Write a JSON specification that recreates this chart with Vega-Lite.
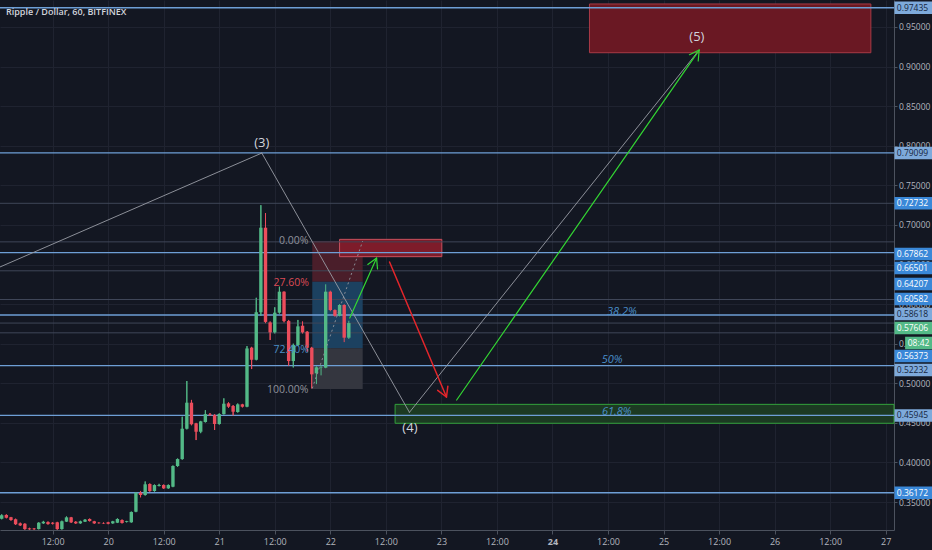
{
  "$schema": "https://vega.github.io/schema/vega-lite/v6.json",
  "width": 894,
  "height": 530,
  "autosize": "none",
  "padding": {"left": 0, "top": 0, "right": 38, "bottom": 20},
  "background": "#131722",
  "title": {
    "text": "Ripple / Dollar, 60, BITFINEX",
    "anchor": "start",
    "frame": "group",
    "orient": "top",
    "offset": -17,
    "dx": 6,
    "font": "Open Sans",
    "fontSize": 9,
    "fontWeight": 600,
    "color": "#d1d4dc"
  },
  "datasets": {
    "candles": [
      {"t": 1, "o": 0.3290, "h": 0.3345, "l": 0.3282, "c": 0.3332},
      {"t": 2, "o": 0.3336, "h": 0.3345, "l": 0.3295, "c": 0.3302},
      {"t": 3, "o": 0.3307, "h": 0.3312, "l": 0.3265, "c": 0.3273},
      {"t": 4, "o": 0.3282, "h": 0.3290, "l": 0.3210, "c": 0.3219},
      {"t": 5, "o": 0.3231, "h": 0.3240, "l": 0.3198, "c": 0.3206},
      {"t": 6, "o": 0.3226, "h": 0.3232, "l": 0.3150, "c": 0.3159},
      {"t": 7, "o": 0.3168, "h": 0.3175, "l": 0.3150, "c": 0.3155},
      {"t": 8, "o": 0.3166, "h": 0.3172, "l": 0.3150, "c": 0.3157},
      {"t": 9, "o": 0.3159, "h": 0.3245, "l": 0.3155, "c": 0.3239},
      {"t": 10, "o": 0.3231, "h": 0.3262, "l": 0.3225, "c": 0.3251},
      {"t": 11, "o": 0.3247, "h": 0.3255, "l": 0.3215, "c": 0.3222},
      {"t": 12, "o": 0.3239, "h": 0.3245, "l": 0.3218, "c": 0.3226},
      {"t": 13, "o": 0.3244, "h": 0.3250, "l": 0.3150, "c": 0.3159},
      {"t": 14, "o": 0.3159, "h": 0.3265, "l": 0.3152, "c": 0.3257},
      {"t": 15, "o": 0.3252, "h": 0.3318, "l": 0.3248, "c": 0.3307},
      {"t": 16, "o": 0.3307, "h": 0.3312, "l": 0.3236, "c": 0.3244},
      {"t": 17, "o": 0.3251, "h": 0.3258, "l": 0.3224, "c": 0.3231},
      {"t": 18, "o": 0.3231, "h": 0.3264, "l": 0.3226, "c": 0.3257},
      {"t": 19, "o": 0.3252, "h": 0.3285, "l": 0.3248, "c": 0.3277},
      {"t": 20, "o": 0.3286, "h": 0.3292, "l": 0.3255, "c": 0.3260},
      {"t": 21, "o": 0.3257, "h": 0.3262, "l": 0.3225, "c": 0.3231},
      {"t": 22, "o": 0.3239, "h": 0.3245, "l": 0.3228, "c": 0.3233},
      {"t": 23, "o": 0.3236, "h": 0.3242, "l": 0.3224, "c": 0.3229},
      {"t": 24, "o": 0.3244, "h": 0.3250, "l": 0.3220, "c": 0.3226},
      {"t": 25, "o": 0.3231, "h": 0.3262, "l": 0.3226, "c": 0.3257},
      {"t": 26, "o": 0.3239, "h": 0.3294, "l": 0.3235, "c": 0.3286},
      {"t": 27, "o": 0.3273, "h": 0.3280, "l": 0.3230, "c": 0.3235},
      {"t": 28, "o": 0.3248, "h": 0.3262, "l": 0.3243, "c": 0.3257},
      {"t": 29, "o": 0.3244, "h": 0.3380, "l": 0.3240, "c": 0.3374},
      {"t": 30, "o": 0.3378, "h": 0.3625, "l": 0.3372, "c": 0.3618},
      {"t": 31, "o": 0.3618, "h": 0.3640, "l": 0.3560, "c": 0.3589},
      {"t": 32, "o": 0.3589, "h": 0.3760, "l": 0.3582, "c": 0.3724},
      {"t": 33, "o": 0.3728, "h": 0.3735, "l": 0.3630, "c": 0.3639},
      {"t": 34, "o": 0.3639, "h": 0.3722, "l": 0.3632, "c": 0.3715},
      {"t": 35, "o": 0.3703, "h": 0.3730, "l": 0.3698, "c": 0.3715},
      {"t": 36, "o": 0.3715, "h": 0.3722, "l": 0.3666, "c": 0.3673},
      {"t": 37, "o": 0.3673, "h": 0.3722, "l": 0.3668, "c": 0.3715},
      {"t": 38, "o": 0.3694, "h": 0.3962, "l": 0.3688, "c": 0.3955},
      {"t": 39, "o": 0.3955, "h": 0.4050, "l": 0.3945, "c": 0.4043},
      {"t": 40, "o": 0.4043, "h": 0.4578, "l": 0.4035, "c": 0.4426},
      {"t": 41, "o": 0.4426, "h": 0.5029, "l": 0.4418, "c": 0.4755},
      {"t": 42, "o": 0.4755, "h": 0.4790, "l": 0.4470, "c": 0.4482},
      {"t": 43, "o": 0.4494, "h": 0.4500, "l": 0.4283, "c": 0.4388},
      {"t": 44, "o": 0.4388, "h": 0.4525, "l": 0.4370, "c": 0.4519},
      {"t": 45, "o": 0.4511, "h": 0.4660, "l": 0.4505, "c": 0.4611},
      {"t": 46, "o": 0.4607, "h": 0.4625, "l": 0.4590, "c": 0.4595},
      {"t": 47, "o": 0.4599, "h": 0.4610, "l": 0.4410, "c": 0.4486},
      {"t": 48, "o": 0.4486, "h": 0.4620, "l": 0.4478, "c": 0.4611},
      {"t": 49, "o": 0.4611, "h": 0.4810, "l": 0.4605, "c": 0.4742},
      {"t": 50, "o": 0.4747, "h": 0.4760, "l": 0.4690, "c": 0.4704},
      {"t": 51, "o": 0.4713, "h": 0.4725, "l": 0.4590, "c": 0.4641},
      {"t": 52, "o": 0.4637, "h": 0.4745, "l": 0.4630, "c": 0.4734},
      {"t": 53, "o": 0.4734, "h": 0.4740, "l": 0.4695, "c": 0.4704},
      {"t": 54, "o": 0.4704, "h": 0.5470, "l": 0.4698, "c": 0.5440},
      {"t": 55, "o": 0.5450, "h": 0.5460, "l": 0.5180, "c": 0.5297},
      {"t": 56, "o": 0.5297, "h": 0.6080, "l": 0.5290, "c": 0.5897},
      {"t": 57, "o": 0.5897, "h": 0.7250, "l": 0.5850, "c": 0.6965},
      {"t": 58, "o": 0.6965, "h": 0.7150, "l": 0.5760, "c": 0.5775},
      {"t": 59, "o": 0.5768, "h": 0.5780, "l": 0.5547, "c": 0.5643},
      {"t": 60, "o": 0.5643, "h": 0.5960, "l": 0.5630, "c": 0.5892},
      {"t": 61, "o": 0.5892, "h": 0.6220, "l": 0.5880, "c": 0.6157},
      {"t": 62, "o": 0.6157, "h": 0.6160, "l": 0.5770, "c": 0.5786},
      {"t": 63, "o": 0.5786, "h": 0.5800, "l": 0.5220, "c": 0.5281},
      {"t": 64, "o": 0.5281, "h": 0.5500, "l": 0.5200, "c": 0.5483},
      {"t": 65, "o": 0.5483, "h": 0.5800, "l": 0.5470, "c": 0.5719},
      {"t": 66, "o": 0.5727, "h": 0.5780, "l": 0.5630, "c": 0.5643},
      {"t": 67, "o": 0.5651, "h": 0.5660, "l": 0.5400, "c": 0.5449},
      {"t": 68, "o": 0.5449, "h": 0.5460, "l": 0.4935, "c": 0.5113},
      {"t": 69, "o": 0.5126, "h": 0.5215, "l": 0.4990, "c": 0.5202},
      {"t": 70, "o": 0.5200, "h": 0.5230, "l": 0.5100, "c": 0.5206},
      {"t": 71, "o": 0.5197, "h": 0.6250, "l": 0.5190, "c": 0.6157},
      {"t": 72, "o": 0.6157, "h": 0.6170, "l": 0.5910, "c": 0.5925},
      {"t": 73, "o": 0.5925, "h": 0.5935, "l": 0.5840, "c": 0.5853},
      {"t": 74, "o": 0.5853, "h": 0.6000, "l": 0.5845, "c": 0.5989},
      {"t": 75, "o": 0.5989, "h": 0.6000, "l": 0.5520, "c": 0.5576},
      {"t": 76, "o": 0.5576, "h": 0.5790, "l": 0.5560, "c": 0.5761}
    ],
    "levels": [
      {"p": 0.97435, "line": "bright", "ly": 0.97435, "style": "light", "label": "0.97435"},
      {"p": 0.79099, "line": "bright", "ly": 0.79099, "style": "light", "label": "0.79099"},
      {"p": 0.72732, "line": "dim", "ly": 0.72732, "style": "mid", "label": "0.72732"},
      {"p": 0.67862, "line": "dim", "ly": 0.6633, "style": "mid", "label": "0.67862"},
      {"p": 0.66501, "line": "bright", "ly": 0.6456, "style": "mid", "label": "0.66501"},
      {"p": 0.64207, "line": "dim", "ly": 0.6254, "style": "mid", "label": "0.64207"},
      {"p": 0.60582, "line": "dim", "ly": 0.6064, "style": "mid", "label": "0.60582"},
      {"p": 0.58618, "line": "bright", "ly": 0.5875, "style": "light", "label": "0.58618"},
      {"p": 0.57606, "line": "dim", "ly": 0.5698, "style": "cur", "label": "0.57606"},
      {"p": 0.56373, "line": "dim", "ly": 0.5344, "style": "mid", "label": "0.56373"},
      {"p": 0.52232, "line": "bright", "ly": 0.5167, "style": "light", "label": "0.52232"},
      {"p": 0.45945, "line": "bright", "ly": 0.45945, "style": "light", "label": "0.45945"},
      {"p": 0.36172, "line": "bright", "ly": 0.36172, "style": "mid", "label": "0.36172"}
    ],
    "zones": [
      {"t": 68.1, "t2": 79.0, "p": 0.6797, "p2": 0.6281, "kind": "fibTop"},
      {"t": 68.1, "t2": 79.0, "p": 0.6281, "p2": 0.5444, "kind": "fibMid"},
      {"t": 68.1, "t2": 79.0, "p": 0.5444, "p2": 0.4928, "kind": "fibLow"},
      {"t": 74.0, "t2": 96.1, "p": 0.6818, "p2": 0.6599, "kind": "target"},
      {"t": 128.0, "t2": 188.8, "p": 0.9791, "p2": 0.9175, "kind": "goal"},
      {"t": 86.0, "t2": 193.8, "p": 0.4734, "p2": 0.4495, "kind": "support"}
    ],
    "segments": [
      {"t": 0.63, "p": 0.6469, "t2": 57.2, "p2": 0.7908, "kind": "wave"},
      {"t": 57.2, "p": 0.7908, "t2": 89.1, "p2": 0.4633, "kind": "wave"},
      {"t": 89.1, "p": 0.4633, "t2": 151.3, "p2": 0.918, "kind": "wave"},
      {"t": 76.2, "p": 0.5824, "t2": 82.0, "p2": 0.6582, "kind": "up"},
      {"t": 82.0, "p": 0.6582, "t2": 80.1, "p2": 0.6501, "kind": "up"},
      {"t": 82.0, "p": 0.6582, "t2": 82.2, "p2": 0.6444, "kind": "up"},
      {"t": 84.8, "p": 0.6532, "t2": 97.1, "p2": 0.4827, "kind": "down"},
      {"t": 97.1, "p": 0.4827, "t2": 97.4, "p2": 0.4964, "kind": "down"},
      {"t": 97.1, "p": 0.4827, "t2": 95.2, "p2": 0.4910, "kind": "down"},
      {"t": 99.3, "p": 0.4789, "t2": 151.7, "p2": 0.9209, "kind": "up"},
      {"t": 151.7, "p": 0.9209, "t2": 149.6, "p2": 0.9150, "kind": "up"},
      {"t": 151.7, "p": 0.9209, "t2": 151.5, "p2": 0.9071, "kind": "up"}
    ],
    "trend": [
      {"t": 68.1, "p": 0.4935, "t2": 79.0, "p2": 0.6797}
    ],
    "waves": [
      {"t": 57.2, "p": 0.8035, "text": "(3)"},
      {"t": 89.2, "p": 0.4435, "text": "(4)"},
      {"t": 151.2, "p": 0.9374, "text": "(5)"}
    ],
    "fiblabels": [
      {"t": 67.3, "p": 0.6797, "text": "0.00%", "kind": "edge"},
      {"t": 67.4, "p": 0.6266, "text": "27.60%", "kind": "loss"},
      {"t": 67.4, "p": 0.5420, "text": "72.40%", "kind": "gain"},
      {"t": 67.3, "p": 0.4915, "text": "100.00%", "kind": "edge"}
    ],
    "retrace": [
      {"t": 135.0, "p": 0.5900, "text": "38.2%"},
      {"t": 132.9, "p": 0.5294, "text": "50%"},
      {"t": 133.9, "p": 0.4637, "text": "61.8%"}
    ],
    "countdown": [
      {"label": "08:42", "ly": 0.5509}
    ]
  },
  "layer": [
    {
      "data": {"name": "candles"},
      "mark": {"type": "rule", "strokeWidth": 1},
      "encoding": {
        "x": {
          "field": "t", "type": "quantitative", "title": null,
          "scale": {"domain": [0.63, 193.8], "nice": false, "zero": false, "padding": 0},
          "axis": {
            "values": [0, 12, 24, 36, 48, 60, 72, 84, 96, 108, 120, 132, 144, 156, 168, 180, 192],
            "labelExpr": "datum.value % 24 == 0 ? '' + (19 + datum.value / 24) : '12:00'",
            "labelFontWeight": {"condition": {"test": "datum.value == 120", "value": "bold"}, "value": "normal"},
            "title": null,
            "grid": true,
            "gridColor": "#1f2330",
            "domainColor": "#4c525e",
            "tickColor": "#4c525e",
            "tickSize": 4,
            "labelPadding": 3,
            "labelFlush": false,
            "labelOverlap": false,
            "labelColor": "#b2b5be",
            "labelFont": "Open Sans",
            "labelFontSize": 9
          }
        },
        "y": {
          "field": "l", "type": "quantitative", "title": null,
          "scale": {"domain": [0.3147, 0.9841], "nice": false, "zero": false, "padding": 0},
          "axis": {
            "orient": "right",
            "values": [0.35, 0.4, 0.45, 0.5, 0.55, 0.6, 0.65, 0.7, 0.75, 0.8, 0.85, 0.9, 0.95],
            "format": ".5f",
            "title": null,
            "grid": true,
            "gridColor": "#1f2330",
            "domainColor": "#4c525e",
            "tickColor": "#4c525e",
            "tickSize": 3,
            "labelPadding": 1.5,
            "labelOverlap": false,
            "labelColor": "#b2b5be",
            "labelFont": "Open Sans",
            "labelFontSize": 8.5
          }
        },
        "y2": {"field": "h"},
        "color": {"condition": {"test": "datum.c >= datum.o", "value": "#53b987"}, "value": "#eb4d5c"}
      }
    },
    {
      "data": {"name": "zones"},
      "mark": {"type": "rect", "strokeWidth": 1},
      "encoding": {
        "x": {"field": "t", "type": "quantitative", "title": null},
        "x2": {"field": "t2"},
        "y": {"field": "p", "type": "quantitative", "title": null},
        "y2": {"field": "p2"},
        "fill": {
          "field": "kind", "type": "nominal", "legend": null,
          "scale": {
            "domain": ["fibTop", "fibMid", "fibLow", "target", "goal", "support"],
            "range": ["#4a1e2a", "#1c4160", "#34363f", "#7e1c2a", "#6a1823", "#1c3a22"]
          }
        },
        "stroke": {
          "field": "kind", "type": "nominal", "legend": null,
          "scale": {
            "domain": ["fibTop", "fibMid", "fibLow", "target", "goal", "support"],
            "range": ["transparent", "transparent", "transparent", "#c9505d", "#a83a46", "#33a23c"]
          }
        }
      }
    },
    {
      "data": {"name": "levels"},
      "mark": {"type": "rule"},
      "encoding": {
        "y": {"field": "p", "type": "quantitative", "title": null},
        "color": {
          "field": "line", "type": "nominal", "legend": null,
          "scale": {"domain": ["bright", "dim"], "range": ["#6e9fd6", "#3f4658"]}
        },
        "strokeWidth": {
          "field": "line", "type": "nominal", "legend": null,
          "scale": {"domain": ["bright", "dim"], "range": [1.4, 1]}
        }
      }
    },
    {
      "data": {"name": "candles"},
      "mark": {"type": "rule", "strokeWidth": 1},
      "encoding": {
        "x": {"field": "t", "type": "quantitative", "title": null},
        "y": {"field": "l", "type": "quantitative", "title": null},
        "y2": {"field": "h"},
        "color": {"condition": {"test": "datum.c >= datum.o", "value": "#53b987"}, "value": "#eb4d5c"}
      }
    },
    {
      "data": {"name": "candles"},
      "mark": {"type": "bar", "width": 3.4},
      "encoding": {
        "x": {"field": "t", "type": "quantitative", "title": null},
        "y": {"field": "o", "type": "quantitative", "title": null},
        "y2": {"field": "c"},
        "color": {"condition": {"test": "datum.c >= datum.o", "value": "#53b987"}, "value": "#eb4d5c"}
      }
    },
    {
      "data": {"name": "trend"},
      "mark": {"type": "rule", "strokeDash": [2, 3], "color": "#8a8d96", "strokeWidth": 1},
      "encoding": {
        "x": {"field": "t", "type": "quantitative", "title": null},
        "x2": {"field": "t2"},
        "y": {"field": "p", "type": "quantitative", "title": null},
        "y2": {"field": "p2"}
      }
    },
    {
      "data": {"name": "segments"},
      "mark": {"type": "rule", "strokeCap": "round"},
      "encoding": {
        "x": {"field": "t", "type": "quantitative", "title": null},
        "x2": {"field": "t2"},
        "y": {"field": "p", "type": "quantitative", "title": null},
        "y2": {"field": "p2"},
        "color": {
          "field": "kind", "type": "nominal", "legend": null,
          "scale": {"domain": ["wave", "up", "down"], "range": ["#9a9da6", "#33d633", "#e3262b"]}
        },
        "strokeWidth": {
          "field": "kind", "type": "nominal", "legend": null,
          "scale": {"domain": ["wave", "up", "down"], "range": [0.9, 1.5, 1.5]}
        }
      }
    },
    {
      "data": {"name": "waves"},
      "mark": {"type": "text", "font": "Open Sans", "fontSize": 13, "color": "#d1d4dc", "align": "center", "baseline": "middle"},
      "encoding": {
        "x": {"field": "t", "type": "quantitative", "title": null},
        "y": {"field": "p", "type": "quantitative", "title": null},
        "text": {"field": "text"}
      }
    },
    {
      "data": {"name": "fiblabels"},
      "mark": {"type": "text", "font": "Open Sans", "fontSize": 10.5, "align": "right", "baseline": "middle"},
      "encoding": {
        "x": {"field": "t", "type": "quantitative", "title": null},
        "y": {"field": "p", "type": "quantitative", "title": null},
        "text": {"field": "text"},
        "color": {
          "field": "kind", "type": "nominal", "legend": null,
          "scale": {"domain": ["edge", "loss", "gain"], "range": ["#8f929b", "#dc4a55", "#4b8fc6"]}
        }
      }
    },
    {
      "data": {"name": "retrace"},
      "mark": {"type": "text", "font": "Open Sans", "fontSize": 11, "fontStyle": "italic", "color": "#4a8fca", "align": "center", "baseline": "middle"},
      "encoding": {
        "x": {"field": "t", "type": "quantitative", "title": null},
        "y": {"field": "p", "type": "quantitative", "title": null},
        "text": {"field": "text"}
      }
    },
    {
      "data": {"name": "levels"},
      "mark": {"type": "rule", "strokeWidth": 12.5, "strokeCap": "butt"},
      "encoding": {
        "x": {"datum": 193.9},
        "x2": {"datum": 202.1},
        "y": {"field": "ly", "type": "quantitative", "title": null},
        "color": {
          "field": "style", "type": "nominal", "legend": null,
          "scale": {"domain": ["light", "mid", "cur"], "range": ["#7eaadb", "#3a88d8", "#53b987"]}
        }
      }
    },
    {
      "data": {"name": "levels"},
      "mark": {"type": "text", "font": "Open Sans", "fontSize": 8.5, "align": "center", "baseline": "middle"},
      "encoding": {
        "x": {"datum": 197.8},
        "y": {"field": "ly", "type": "quantitative", "title": null},
        "text": {"field": "label"},
        "color": {
          "field": "style", "type": "nominal", "legend": null,
          "scale": {"domain": ["light", "mid", "cur"], "range": ["#152640", "#ffffff", "#ffffff"]}
        }
      }
    },
    {
      "data": {"name": "countdown"},
      "mark": {"type": "rule", "strokeWidth": 12.5, "strokeCap": "butt", "color": "#53b987"},
      "encoding": {
        "x": {"datum": 196.2},
        "x2": {"datum": 202.1},
        "y": {"field": "ly", "type": "quantitative", "title": null}
      }
    },
    {
      "data": {"name": "countdown"},
      "mark": {"type": "text", "font": "Open Sans", "fontSize": 8.5, "align": "center", "baseline": "middle", "color": "#ffffff"},
      "encoding": {
        "x": {"datum": 199.1},
        "y": {"field": "ly", "type": "quantitative", "title": null},
        "text": {"field": "label"}
      }
    }
  ],
  "resolve": {"scale": {"color": "independent", "fill": "independent", "stroke": "independent", "strokeWidth": "independent"}},
  "config": {
    "view": {"stroke": null},
    "font": "Open Sans"
  }
}
